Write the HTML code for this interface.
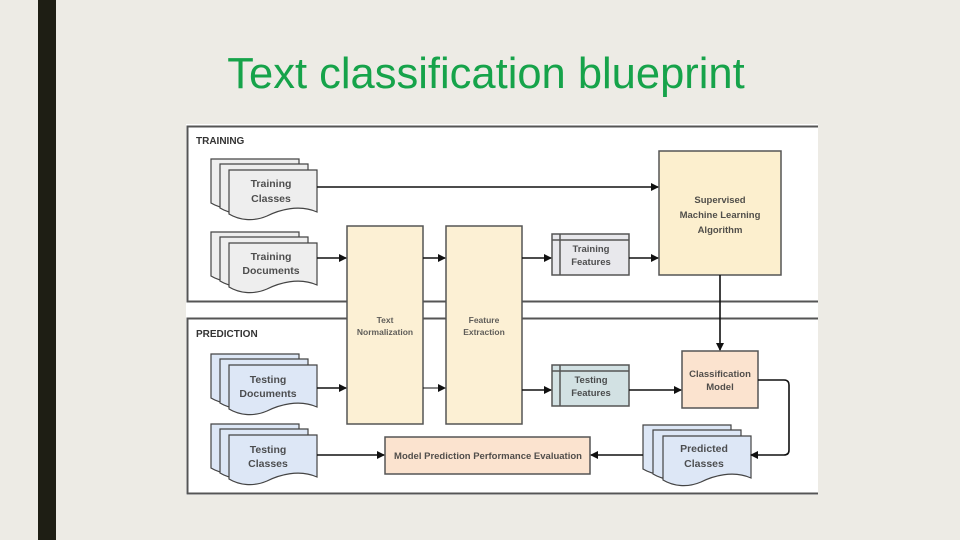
<!DOCTYPE html>
<html><head><meta charset="utf-8"><style>
html,body{margin:0;padding:0;width:960px;height:540px;overflow:hidden;background:#EDEBE5}
svg{display:block}
text{font-family:"Liberation Sans",sans-serif}
</style></head><body>
<svg width="960" height="540" viewBox="0 0 960 540" xmlns="http://www.w3.org/2000/svg">
<defs>
<marker id="a" markerWidth="8" markerHeight="8" refX="7" refY="4" orient="auto" markerUnits="userSpaceOnUse"><path d="M0,0 L8,4 L0,8 z" fill="#111"/></marker>
<g id="doc"><path d="M0,0 H88 V42 C70,34 50,40 38,46 C24,52 10,50 0,44 Z"/></g>
</defs>
<rect x="38" y="0" width="18" height="540" fill="#1E1E14"/>
<text x="486" y="88" font-size="43.5" fill="#16A34A" text-anchor="middle">Text classification blueprint</text>
<rect x="186" y="124" width="633" height="371" fill="#fff"/>
<rect x="187.5" y="126.5" width="640" height="175" fill="#fff" stroke="#555" stroke-width="2"/>
<rect x="187.5" y="318.5" width="640" height="175" fill="#fff" stroke="#555" stroke-width="2"/>
<rect x="818" y="120" width="20" height="380" fill="#EDEBE5"/>
<text x="196" y="144" font-size="10" font-weight="bold" fill="#333">TRAINING</text>
<text x="196" y="337" font-size="10" font-weight="bold" fill="#333">PREDICTION</text>
<g stroke="#444" stroke-width="1.2">
<g fill="#EEEEEE"><use href="#doc" x="211" y="159"/><use href="#doc" x="220" y="164"/><use href="#doc" x="229" y="170"/></g>
<g fill="#EEEEEE"><use href="#doc" x="211" y="232"/><use href="#doc" x="220" y="237"/><use href="#doc" x="229" y="243"/></g>
<g fill="#DDE7F6"><use href="#doc" x="211" y="354"/><use href="#doc" x="220" y="359"/><use href="#doc" x="229" y="365"/></g>
<g fill="#DDE7F6"><use href="#doc" x="211" y="424"/><use href="#doc" x="220" y="429"/><use href="#doc" x="229" y="435"/></g>
<g fill="#DDE7F6"><use href="#doc" x="643" y="425"/><use href="#doc" x="653" y="430"/><use href="#doc" x="663" y="436"/></g>
</g>
<g fill="#FCF0D4" stroke="#555" stroke-width="1.5">
<rect x="347" y="226" width="76" height="198"/>
<rect x="446" y="226" width="76" height="198"/>
<rect x="659" y="151" width="122" height="124" fill="#FCEFCE"/>
<rect x="682" y="351" width="76" height="57" fill="#FBE3CF"/>
<rect x="385" y="437" width="205" height="37" fill="#FBE3CF"/>
</g>
<g stroke="#555" stroke-width="1.5">
<rect x="552" y="234" width="77" height="41" fill="#E8E8EC"/>
<path d="M552,240 H629 M560,234 V275" fill="none"/>
<rect x="552" y="365" width="77" height="41" fill="#D2E1E3"/>
<path d="M552,371 H629 M560,365 V406" fill="none"/>
</g>
<g stroke="#111" stroke-width="1.6" fill="none" marker-end="url(#a)">
<path d="M317,187 H658"/>
<path d="M317,258 H346"/>
<path d="M423,258 H445"/>
<path d="M522,258 H551"/>
<path d="M629,258 H658"/>
<path d="M720,275 V350"/>
<path d="M317,388 H346"/>
<path d="M423,388 H445" stroke-width="1"/>
<path d="M522,390 H551"/>
<path d="M629,390 H681"/>
<path d="M758,380 H784 Q789,380 789,385 V450 Q789,455 784,455 H751"/>
<path d="M643,455 H591"/>
<path d="M317,455 H384"/>
</g>
<g font-size="10.5" fill="#333" text-anchor="middle" font-weight="bold" opacity="0.85">
<text x="271" y="187">Training</text><text x="271" y="202">Classes</text>
<text x="271" y="260">Training</text><text x="271" y="274">Documents</text>
<text x="268" y="383">Testing</text><text x="268" y="397">Documents</text>
<text x="268" y="453">Testing</text><text x="268" y="467">Classes</text>
<text x="704" y="452">Predicted</text><text x="704" y="467">Classes</text>
<g font-size="8.5" fill="#444">
<text x="385" y="323">Text</text><text x="385" y="335">Normalization</text>
<text x="484" y="323">Feature</text><text x="484" y="335">Extraction</text>
</g>
<g font-size="9.5">
<text x="591" y="252">Training</text><text x="591" y="265">Features</text>
<text x="591" y="383">Testing</text><text x="591" y="396">Features</text>
<text x="720" y="203">Supervised</text><text x="720" y="218">Machine Learning</text><text x="720" y="233">Algorithm</text>
<text x="720" y="377">Classification</text><text x="720" y="390">Model</text>
<text x="488" y="459">Model Prediction Performance Evaluation</text>
</g>
</g>
</svg>
</body></html>
